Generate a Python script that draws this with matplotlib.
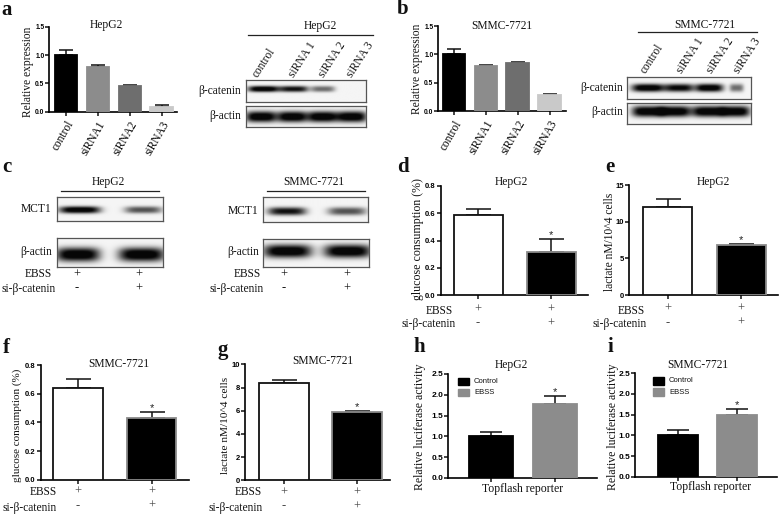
import matplotlib
matplotlib.use("Agg")
import matplotlib.pyplot as plt
import numpy as np
from matplotlib.lines import Line2D
from matplotlib.patches import Rectangle

W, H = 779, 515
SERIF = "Liberation Serif"
SANS = "Liberation Sans"

# bar values
sirna_labels = ["control", "siRNA1", "siRNA2", "siRNA3"]
blot_labels = ["control", "siRNA 1", "siRNA 2", "siRNA 3"]
a_vals = [1.0, 0.79, 0.46, 0.09]
a_errs = [0.09, 0.03, 0.02, 0.02]
b_vals = [1.0, 0.79, 0.85, 0.29]
b_errs = [0.09, 0.03, 0.02, 0.02]
d_vals = [0.59, 0.32]
d_errs = [0.045, 0.095]
e_vals = [12.0, 6.8]
e_errs = [1.1, 0.2]
f_vals = [0.64, 0.43]
f_errs = [0.065, 0.045]
g_vals = [8.4, 5.85]
g_errs = [0.22, 0.12]
h_vals = [1.0, 1.78]
h_errs = [0.11, 0.2]
i_vals = [1.0, 1.5]
i_errs = [0.12, 0.14]

sirna_colors = ["#000000", "#8c8c8c", "#6e6e6e", "#c9c9c9"]
ebss_row = ["+", "+"]
si_row = ["-", "+"]
legend_names = ["Control", "EBSS"]

# blot band strengths per lane
a_catenin = [1.0, 0.85, 0.5]
a_actin = [1.0, 1.0, 1.0, 1.0]
b_catenin = [1.0, 0.9, 1.0, 0.5]
b_actin = [1.0, 1.0, 1.0, 1.0]
c1_mct = [1.0, 0.6]
c1_actin = [1.0, 1.0]
c2_mct = [0.85, 0.6]
c2_actin = [1.0, 1.0]

fig = plt.figure(figsize=(W / 100, H / 100), dpi=100, facecolor="white")


def txt(x, y, s, size=8, ha="center", va="center", rot=0, family=SERIF, weight="normal"):
    fig.text(x / W, 1 - y / H, s, fontsize=size, ha=ha, va=va, rotation=rot,
             family=family, fontweight=weight, rotation_mode="anchor", color="#111111")


def hline(x0, x1, y):
    fig.add_artist(Line2D([x0 / W, x1 / W], [1 - y / H, 1 - y / H], color="#222222", lw=0.9))


def axes_px(x0, x1, ytop, ybot):
    return fig.add_axes([x0 / W, 1 - ybot / H, (x1 - x0) / W, (ybot - ytop) / H])


def bar_panel(box, vals, errs, ymax, yticks, first, step, width, colors, edges, capsize,
              tick_size=5.5, tick_fmt="{:.1f}", lw=1.3):
    x0, x1, ytop, ybot = box
    ax = axes_px(x0, x1, ytop, ybot)
    xs = np.arange(len(vals))
    ax.bar(xs, vals, width=width / step, color=colors, edgecolor=edges, linewidth=lw, zorder=3)
    ax.errorbar(xs, vals, yerr=[[0] * len(vals), errs], fmt="none", ecolor="#111111",
                elinewidth=1.1, capsize=capsize, capthick=1.1, zorder=2)
    ax.set_xlim((x0 - first) / step, (x1 - first) / step)
    ax.set_ylim(0, ymax)
    ax.set_xticks(xs)
    ax.set_xticklabels([])
    ax.set_yticks(yticks)
    ax.set_yticklabels([tick_fmt.format(t) for t in yticks], family=SANS, fontweight="bold",
                       fontsize=tick_size)
    ax.tick_params(axis="both", length=3, width=1.1, pad=0.5, color="#111111")
    ax.spines["top"].set_visible(False)
    ax.spines["right"].set_visible(False)
    ax.spines["left"].set_linewidth(1.2)
    ax.spines["bottom"].set_linewidth(1.2)
    ax.patch.set_alpha(0)
    return ax


def blot(box, centers, widths, strengths, yc, band_h):
    x0, x1, ytop, ybot = box
    ax = axes_px(x0, x1, ytop, ybot)
    px = np.arange(x0, x1, 0.5)
    py = np.arange(ytop, ybot, 0.5)
    xx, yy = np.meshgrid(px, py)
    img = np.full(xx.shape, 0.0)
    for c, w, s in zip(centers, widths, strengths):
        img += s * np.exp(-np.abs((xx - c) / (w / 2)) ** 4) * np.exp(-np.abs((yy - yc) / (band_h / 2)) ** 2.5)
    img = 0.93 * (1 - np.clip(img * 1.15, 0, 1)) + 0.03
    ax.imshow(img, cmap="gray", vmin=0, vmax=1, extent=(x0, x1, ybot, ytop), aspect="auto",
              interpolation="bilinear")
    ax.set_xticks([])
    ax.set_yticks([])
    for sp in ax.spines.values():
        sp.set_color("#555555")
        sp.set_linewidth(0.9)
    return ax


def marks(ax, dy1, dy2):
    for i, (m1, m2) in enumerate(zip(ebss_row, si_row)):
        for m, dy in ((m1, dy1), (m2, dy2)):
            ax.annotate(m, (i, 0), xycoords=("data", "axes fraction"),
                        xytext=(0, -dy * 0.72), textcoords="offset points", ha="center",
                        va="center", family=SERIF, fontsize=9, color="#444444")


def star(ax, i, y):
    ax.annotate("*", (i, y), xytext=(0, -1), textcoords="offset points", ha="center",
                va="bottom", family=SANS, fontsize=8, color="#222222", annotation_clip=False)


# panels a and b
ax_a = bar_panel((49.3, 177, 26.7, 111.7), a_vals, a_errs, 1.5, [0, 0.5, 1.0, 1.5], 66, 31.9, 22.5,
                 sirna_colors, sirna_colors, 5, tick_size=4.8)
ax_b = bar_panel((438.3, 565.7, 26, 111.3), b_vals, b_errs, 1.5, [0, 0.5, 1.0, 1.5], 453.8, 31.9, 22.3,
                 sirna_colors, sirna_colors, 5, tick_size=4.8)
for ax in (ax_a, ax_b):
    ax.set_xticklabels(sirna_labels, rotation=60, ha="right", rotation_mode="anchor",
                       family=SERIF, fontsize=8.3)
    ax.tick_params(axis="x", pad=2)
txt(28, 71.7, "Relative expression", 8.3, rot=90)
txt(416.7, 69.3, "Relative expression", 8.3, rot=90)
txt(106.7, 25, "HepG2", 8.3)
txt(502.3, 26, "SMMC-7721", 8.3)

txt(320, 26, "HepG2", 8.3)
hline(248, 373, 35)
for x, s in zip([255, 291, 321, 349], blot_labels):
    txt(x, 76, s, 8.3, ha="left", va="center", rot=57)
blot((245.7, 366, 80, 102.3), [263, 293, 322], [31, 29, 24], a_catenin, 89.5, 6)
blot((245.7, 366, 106, 126.7), [260.7, 291.7, 321.7, 350.7], [31, 30, 30, 30], a_actin, 116.5, 11)
txt(241, 91, "β-catenin", 8.3, ha="right")
txt(241, 115.5, "β-actin", 8.3, ha="right")

txt(705, 24.7, "SMMC-7721", 8.3)
hline(638.3, 756.7, 32.3)
for x, s in zip([643, 679, 709, 736], blot_labels):
    txt(x, 72.5, s, 8.3, ha="left", va="center", rot=57)
blot((627.3, 751, 76.7, 99.3), [648.3, 679.3, 709.3, 736.7], [33, 29, 28, 14], b_catenin, 88.3, 8)
blot((627.3, 751, 103.3, 124), [648, 675, 708, 735], [32, 32, 32, 30], b_actin, 111.5, 11)
txt(623, 87.5, "β-catenin", 8.3, ha="right")
txt(623, 112, "β-actin", 8.3, ha="right")

# panel c
txt(108, 182.3, "HepG2", 8.3)
hline(61, 159.3, 190.7)
blot((56.7, 162.7, 196.7, 220.7), [79.3, 142.7], [41, 37], c1_mct, 209.3, 7)
blot((57.3, 163, 237.7, 266.7), [78, 141.7], [44, 46], c1_actin, 254, 14)
txt(51, 209, "MCT1", 8.3, ha="right")
txt(52, 251.7, "β-actin", 8.3, ha="right")

txt(314, 182.3, "SMMC-7721", 8.3)
hline(266.7, 365, 190.7)
blot((263.3, 367.7, 197, 222), [287, 346.7], [38, 38], c2_mct, 211, 8)
blot((262.7, 369, 239.3, 266.7), [287, 346.7], [48, 47], c2_actin, 251, 13)
txt(258.7, 211.5, "MCT1", 8.3, ha="right")
txt(259, 252.3, "β-actin", 8.3, ha="right")

for xr, xs, xm1, xm2 in ((52, 56, 76.7, 139.3), (260.7, 263.3, 284, 346.7)):
    txt(xr, 274.3, "EBSS", 8.3, ha="right")
    txt(xs, 289.3, "si-β-catenin", 8.3, ha="right")
    for x, m1, m2 in zip((xm1, xm2), ebss_row, si_row):
        txt(x, 274.3, m1, 9, family=SERIF)
        txt(x, 288.5, m2, 9, family=SERIF)

# panels d to g
bw = ["white", "black"]
ed = ["#111111", "#8a8a8a"]
ax_d = bar_panel((440.7, 588.3, 186, 295.3), d_vals, d_errs, 0.8, [0, 0.2, 0.4, 0.6, 0.8], 478, 73, 49,
                 bw, ed, 9)
ax_e = bar_panel((629, 778, 185, 295), e_vals, e_errs, 15, [0, 5, 10, 15], 667.5, 73.5, 49,
                 bw, ed, 9, tick_fmt="{:.0f}")
ax_f = bar_panel((40.7, 189, 365, 479.7), f_vals, f_errs, 0.8, [0, 0.2, 0.4, 0.6, 0.8], 78, 73.6, 49.3,
                 bw, ed, 9)
ax_g = bar_panel((245, 390, 364.3, 480.3), g_vals, g_errs, 10, [0, 2, 4, 6, 8, 10], 284, 73, 49.3,
                 bw, ed, 9, tick_fmt="{:.0f}")
star(ax_d, 1, 0.415)
star(ax_e, 1, 7.0)
star(ax_f, 1, 0.475)
star(ax_g, 1, 5.98)

txt(418.3, 238.7, "glucose consumption (%)", 8.6, rot=90)
txt(610, 242, "lactate nM/10^4 cells", 8.3, rot=90)
txt(17.3, 425.7, "glucose consumption (%)", 8, rot=90)
txt(226, 425.7, "lactate nM/10^4 cells", 8.2, rot=90)
txt(511.7, 182.3, "HepG2", 8.3)
txt(713.3, 181.7, "HepG2", 8.3)
txt(119.3, 364.3, "SMMC-7721", 8.3)
txt(322.7, 361, "SMMC-7721", 8.3)

marks(ax_d, 14, 28)
marks(ax_e, 14, 28)
marks(ax_f, 12, 26)
marks(ax_g, 12, 26)
for xr, xs, y1, y2 in ((453.3, 456, 310.7, 324.3), (645, 646.7, 310.7, 324.3),
                       (56.7, 56.7, 492.3, 507.7), (261.7, 262.7, 492.3, 507.7)):
    txt(xr, y1, "EBSS", 8.3, ha="right")
    txt(xs, y2, "si-β-catenin", 8.3, ha="right")

# panels h and i
lum = ["#000000", "#8c8c8c"]
ax_h = bar_panel((448.3, 597.3, 374, 478), h_vals, h_errs, 2.5, [0, 0.5, 1.0, 1.5, 2.0, 2.5], 491.3, 63.7, 44,
                 lum, lum, 8, tick_size=6)
ax_i = bar_panel((635, 776.7, 373.3, 476.7), i_vals, i_errs, 2.5, [0, 0.5, 1.0, 1.5, 2.0, 2.5], 678.2, 58.7, 40.3,
                 lum, lum, 8, tick_size=6)
star(ax_h, 1, 1.98)
star(ax_i, 1, 1.64)
txt(420, 426.7, "Relative luciferase activity", 8.5, rot=90)
txt(613, 426.7, "Relative luciferase activity", 8.5, rot=90)
txt(511, 365, "HepG2", 8.3)
txt(698.3, 365, "SMMC-7721", 8.3)
txt(522.7, 489, "Topflash reporter", 8.5)
txt(710.7, 486.7, "Topflash reporter", 8.5)
for x0, x_lab, ys in ((458, 474, (381.3, 392.7)), (653, 669, (381, 392))):
    for y, name, col in zip(ys, legend_names, lum):
        fig.add_artist(Rectangle((x0 / W, 1 - (y + 3.7) / H), 11.3 / W, 7.4 / H, color=col,
                                 transform=fig.transFigure))
        txt(x_lab, y, name, 5.5, ha="left", family=SANS)

# panel letters
letters = ["a", "b", "c", "d", "e", "f", "g", "h", "i"]
letter_x = [7, 403, 7, 403, 610, 6.5, 223, 419.5, 610]
letter_y = [10, 9, 167, 167, 167, 347.7, 350, 346.7, 346.7]
for x, y, s in zip(letter_x, letter_y, letters):
    txt(x, y, s, 15, weight="bold")

fig.savefig("out.png", dpi=100)
